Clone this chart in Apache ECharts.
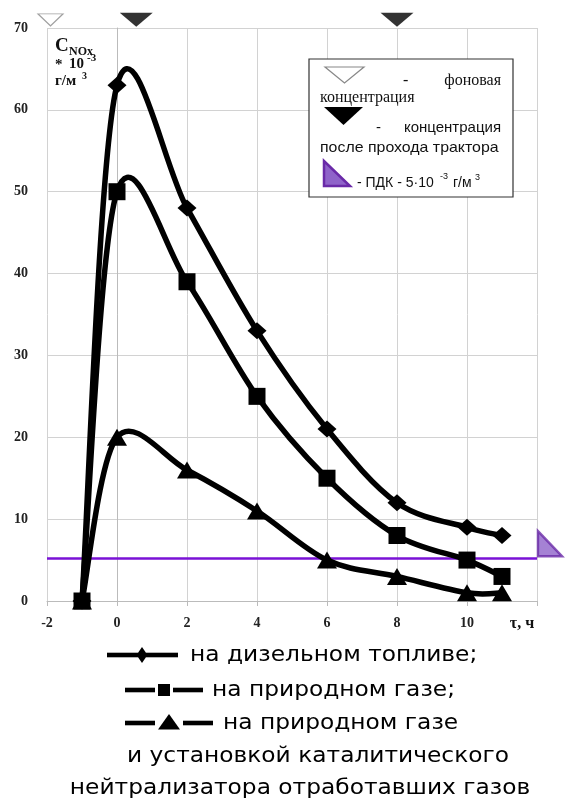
<!DOCTYPE html>
<html><head><meta charset="utf-8">
<script src="https://cdn.jsdelivr.net/npm/echarts@6/dist/echarts.min.js"></script>
<style>html,body{margin:0;padding:0;background:#fff}#c{width:565px;height:800px}</style>
</head><body><div id="c"></div>
<script>
// ---- data ----
const times = [-1, 0, 2, 4, 6, 8, 10, 11];
const dieselValues = [0, 63, 48, 33, 21, 12, 9, 8];
const gasValues = [0, 50, 39, 25, 15, 8, 5, 3];
const catalystValues = [0, 20, 16, 11, 5, 3, 1, 1];
const xRange = [-2, 12];
const yRange = [0, 70];
const pdkLevel = 5.2;
const backgroundMarker = [[-1.9, 71]];
const tractorMarkers = [[0.55, 71], [8, 71]];
const pdkEndMarker = [[12.37, 7.0]];
const seriesNames = ['на дизельном топливе;', 'на природном газе;', 'на природном газе'];
const noteLines = ['и установкой каталитического', 'нейтрализатора отработавших газов'];
const xAxisTitle = 'τ, ч';

// ---- chart ----
const SERIF = '"Liberation Serif", "Times New Roman", serif';
const SANS = '"Liberation Sans", Arial, sans-serif';
const LEG = '"DejaVu Sans", sans-serif';
const chart = echarts.init(document.getElementById('c'), null, {renderer: 'canvas'});
const pair = vals => times.map((t, i) => [t, vals[i]]);

// smoothed curve (Excel-style cardinal bezier) drawn via the axes' scales
const curveSeries = vals => ({
  type: 'custom', data: [[times[0], vals[0]]], z: 3, clip: false, silent: true,
  renderItem: (params, api) => {
    const p = times.map((t, i) => api.coord([t, vals[i]]));
    let d = 'M' + p[0][0] + ',' + p[0][1];
    for (let i = 0; i < p.length - 1; i++) {
      const p0 = p[i - 1] || p[i], p1 = p[i], p2 = p[i + 1], p3 = p[i + 2] || p[i + 1];
      const c1 = [p1[0] + (p2[0] - p0[0]) / 6, p1[1] + (p2[1] - p0[1]) / 6];
      const c2 = [p2[0] - (p3[0] - p1[0]) / 6, p2[1] - (p3[1] - p1[1]) / 6];
      d += ' C' + c1[0] + ',' + c1[1] + ' ' + c2[0] + ',' + c2[1] + ' ' + p2[0] + ',' + p2[1];
    }
    return {type: 'path', shape: {pathData: d}, style: {fill: 'none', stroke: '#000', lineWidth: 5.5, lineJoin: 'round', lineCap: 'round'}};
  }
});
const markerSeries = (name, vals, symbol, size) => ({
  name, type: 'line', data: pair(vals), symbol, symbolSize: size,
  showAllSymbol: true, z: 4,
  itemStyle: {color: '#000'}, lineStyle: {width: 0, opacity: 0}
});
const purpleTri = 'path://M0,0 L0,10 L10,10 Z';

const graphics = [];
const t = (text, x, y, font, extra) => ({type: 'text', x, y, style: Object.assign({text, font, fill: '#111', textVerticalAlign: 'middle'}, extra || {})});
// y-axis title
graphics.push(t('C', 55, 46, 'bold 19px ' + SERIF));
graphics.push(t('NOx', 69, 52, 'bold 12px ' + SERIF));
graphics.push(t('*', 55, 65, 'bold 15px ' + SERIF));
graphics.push(t('10', 69, 64, 'bold 15px ' + SERIF));
graphics.push(t('-3', 87, 58, 'bold 11px ' + SERIF));
graphics.push(t('г/м', 55, 81, 'bold 15px ' + SERIF));
graphics.push(t('3', 82, 76, 'bold 10px ' + SERIF));
// x-axis title
graphics.push(t(xAxisTitle, 522, 624, 'bold 16px ' + SERIF, {textAlign: 'center'}));

// legend box
graphics.push({type: 'rect', shape: {x: 309, y: 59, width: 204, height: 138}, style: {fill: '#fff', stroke: '#333', lineWidth: 1.2}, z: 10});
graphics.push({type: 'polygon', shape: {points: [[325, 67], [364, 67], [344.5, 83]]}, style: {fill: '#fff', stroke: '#888', lineWidth: 1.2}, z: 11});
graphics.push(Object.assign(t('-', 403, 81, '16px ' + SERIF), {z: 11}));
graphics.push(Object.assign(t('фоновая', 501, 81, '16px ' + SERIF, {textAlign: 'right'}), {z: 11}));
graphics.push(Object.assign(t('концентрация', 320, 98, '16px ' + SERIF), {z: 11}));
graphics.push({type: 'polygon', shape: {points: [[324, 107], [363, 107], [343.5, 125]]}, style: {fill: '#000'}, z: 11});
graphics.push(Object.assign(t('-', 376, 128, '15px ' + SANS), {z: 11}));
graphics.push(Object.assign(t('концентрация', 501, 128, '15px ' + SANS, {textAlign: 'right'}), {z: 11}));
graphics.push(Object.assign(t('после прохода трактора', 320, 148, '15px ' + SANS), {z: 11, scaleX: 1.06}));
graphics.push({type: 'polygon', shape: {points: [[324, 161], [324, 186], [350, 186]]}, style: {fill: '#8f63c9', stroke: '#6a2aa8', lineWidth: 2.5}, z: 11});
graphics.push(Object.assign(t('- ПДК - 5·10', 357, 183, '14px ' + SANS), {z: 11}));
graphics.push(Object.assign(t('-3', 440, 177, '9px ' + SANS), {z: 11}));
graphics.push(Object.assign(t('г/м', 453, 183, '14px ' + SANS), {z: 11}));
graphics.push(Object.assign(t('3', 475, 178, '9px ' + SANS), {z: 11}));

// bottom legend
const bar = (x1, x2, y) => ({type: 'rect', shape: {x: x1, y: y - 2.3, width: x2 - x1, height: 4.6}, style: {fill: '#000'}});
const rows = [
  {y: 655, b1: [107, 138], b2: [146, 178], sym: 'diamond', sx: 142, tx: 190},
  {y: 690, b1: [125, 155], b2: [173, 203], sym: 'square', sx: 164, tx: 212},
  {y: 723, b1: [125, 155], b2: [183, 213], sym: 'triangle', sx: 169, tx: 223}
];
const LEG_SCALE = 1.06;
rows.forEach((r, i) => {
  graphics.push(bar(r.b1[0], r.b1[1], r.y));
  graphics.push(bar(r.b2[0], r.b2[1], r.y));
  if (r.sym === 'diamond') graphics.push({type: 'polygon', shape: {points: [[r.sx, r.y - 8], [r.sx + 5.5, r.y], [r.sx, r.y + 8], [r.sx - 5.5, r.y]]}, style: {fill: '#000'}});
  if (r.sym === 'square') graphics.push({type: 'rect', shape: {x: r.sx - 6, y: r.y - 6, width: 12, height: 12}, style: {fill: '#000'}});
  if (r.sym === 'triangle') graphics.push({type: 'polygon', shape: {points: [[r.sx, r.y - 9], [r.sx + 11, r.y + 6.5], [r.sx - 11, r.y + 6.5]]}, style: {fill: '#000'}});
  graphics.push(Object.assign(t(seriesNames[i], r.tx, r.y, '22px ' + LEG, {fill: '#000'}), {scaleX: LEG_SCALE}));
});
const noteCenters = [318, 300];
noteLines.forEach((s, i) => graphics.push(Object.assign(t(s, noteCenters[i], 756 + i * 32, '22px ' + LEG, {textAlign: 'center', fill: '#000'}), {scaleX: LEG_SCALE})));

const gridColor = '#d2d2d2';
chart.setOption({
  animation: false,
  backgroundColor: '#fff',
  grid: {left: 47, right: 28, top: 28, bottom: 199},
  xAxis: {
    type: 'value', min: xRange[0], max: xRange[1], interval: 2,
    axisLine: {show: true, lineStyle: {color: '#bbb', width: 1}},
    axisTick: {show: true, length: 5, lineStyle: {color: '#bbb'}},
    splitLine: {show: true, lineStyle: {color: gridColor, width: 1}},
    axisLabel: {formatter: v => v === xRange[1] ? '' : String(v), fontFamily: SERIF, fontWeight: 'bold', fontSize: 14, color: '#222', margin: 15}
  },
  yAxis: {
    type: 'value', min: yRange[0], max: yRange[1], interval: 10,
    axisLine: {show: true, lineStyle: {color: '#bbb', width: 1}},
    axisTick: {show: false},
    splitLine: {show: true, lineStyle: {color: gridColor, width: 1}},
    axisLabel: {fontFamily: SERIF, fontWeight: 'bold', fontSize: 14, color: '#222', margin: 19}
  },
  series: [
    {type: 'line', data: xRange.map(x => [x, pdkLevel]), showSymbol: false, silent: true, z: 2,
     lineStyle: {color: '#7a12d6', width: 2.5}},
    curveSeries(dieselValues),
    curveSeries(gasValues),
    curveSeries(catalystValues),
    markerSeries(seriesNames[0], dieselValues, 'diamond', [19, 17]),
    markerSeries(seriesNames[1], gasValues, 'rect', 17),
    markerSeries(seriesNames[2], catalystValues, 'triangle', [20, 17]),
    {type: 'scatter', data: backgroundMarker, clip: false, symbol: 'triangle', symbolRotate: 180, symbolSize: [25, 12], z: 5,
     itemStyle: {color: '#fff', borderColor: '#888', borderWidth: 1.2}},
    {type: 'scatter', data: tractorMarkers, clip: false, symbol: 'triangle', symbolRotate: 180, symbolSize: [33, 14], z: 5,
     itemStyle: {color: '#000'}},
    {type: 'scatter', data: pdkEndMarker, clip: false, symbol: purpleTri, symbolSize: [24, 25], z: 5,
     itemStyle: {color: '#8f63c9', borderColor: '#6a2aa8', borderWidth: 2.5}}
  ],
  graphic: graphics
});
</script></body></html>
